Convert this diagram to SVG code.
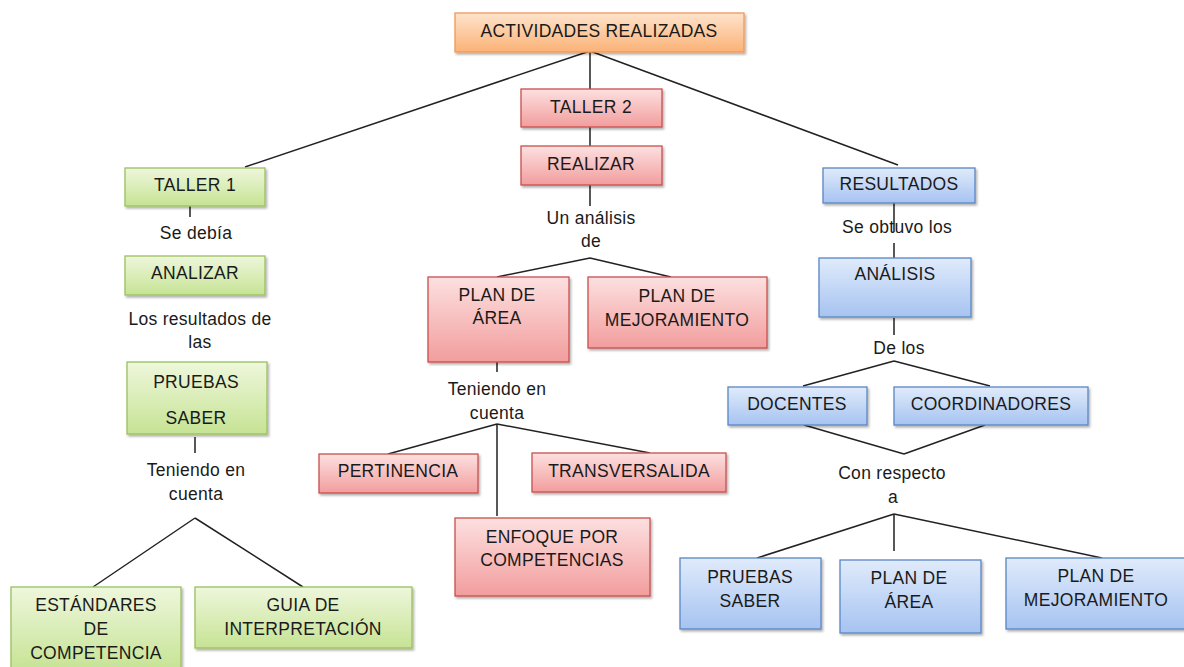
<svg xmlns="http://www.w3.org/2000/svg" width="1184" height="667" viewBox="0 0 1184 667">
<defs>
<linearGradient id="gO" x1="0" y1="0" x2="0" y2="1"><stop offset="0" stop-color="#fee3cc"/><stop offset="1" stop-color="#fbb276"/></linearGradient>
<linearGradient id="gG" x1="0" y1="0" x2="0" y2="1"><stop offset="0" stop-color="#eef7dc"/><stop offset="1" stop-color="#c6e394"/></linearGradient>
<linearGradient id="gR" x1="0" y1="0" x2="0" y2="1"><stop offset="0" stop-color="#fde0e0"/><stop offset="1" stop-color="#f29d9d"/></linearGradient>
<linearGradient id="gB" x1="0" y1="0" x2="0" y2="1"><stop offset="0" stop-color="#e0ebfb"/><stop offset="1" stop-color="#a6c3f1"/></linearGradient>
<filter id="sh" x="-10%" y="-10%" width="130%" height="140%"><feDropShadow dx="1.5" dy="2" stdDeviation="1.2" flood-color="#000" flood-opacity="0.3"/></filter>
</defs>
<style>
text{font-family:"Liberation Sans",Arial,sans-serif;font-size:17.5px;letter-spacing:0.3px;fill:#1a1a1a;text-anchor:middle}
.o{fill:url(#gO);stroke:#f0995a;stroke-width:1.3;filter:url(#sh)}
.g{fill:url(#gG);stroke:#9bc05c;stroke-width:1.3;filter:url(#sh)}
.r{fill:url(#gR);stroke:#c8504d;stroke-width:1.3;filter:url(#sh)}
.b{fill:url(#gB);stroke:#5a86c4;stroke-width:1.3;filter:url(#sh)}
.c{stroke:#222;stroke-width:1.5;fill:none}
</style>
<rect width="1184" height="667" fill="#fff"/>
<g id="connectors">
<path class="c" d="M590 51 L245 167 M590 51 L590 89 M590 51 L898 165 M590 127 L590 146 M590 185 L590 206 M590 258 L497 277 M590 258 L671 277"/>
<path class="c" d="M190 206 L190 217 M195 437 L195 453 M195 518 L93 587 M195 518 L303 587"/>
<path class="c" d="M497 362 L497 372 M497 424 L388 454 M497 424 L650 453 M497 424 L497 516"/>
<path class="c" d="M894 203 L894 232 M894 243 L894 258 M894 318 L894 335 M894 361 L803 386 M894 361 L990 386 M804 425 L904 454 M985 425 L904 454 M894 514 L757 558 M894 514 L894 551 M894 514 L1102 558"/>
</g>
<g id="n-actividades"><rect class="o" x="455" y="13" width="289" height="39"/><text x="599" y="37">ACTIVIDADES REALIZADAS</text></g>
<g id="n-taller2"><rect class="r" x="521" y="89" width="141" height="38"/><text x="591" y="113">TALLER 2</text></g>
<g id="n-realizar"><rect class="r" x="521" y="146" width="141" height="39"/><text x="591" y="170">REALIZAR</text></g>
<g id="l-unanalisis"><text x="591" y="224">Un análisis</text><text x="591" y="247">de</text></g>
<g id="n-planarea1"><rect class="r" x="428" y="277" width="141" height="85"/><text x="497" y="301">PLAN DE</text><text x="497" y="324">ÁREA</text></g>
<g id="n-planmej1"><rect class="r" x="588" y="277" width="179" height="71"/><text x="677" y="302">PLAN DE</text><text x="677" y="326">MEJORAMIENTO</text></g>
<g id="l-teniendo2"><text x="497" y="395">Teniendo en</text><text x="497" y="419">cuenta</text></g>
<g id="n-pertinencia"><rect class="r" x="319" y="454" width="159" height="39"/><text x="398" y="477">PERTINENCIA</text></g>
<g id="n-transversalida"><rect class="r" x="532" y="453" width="194" height="39"/><text x="629" y="477">TRANSVERSALIDA</text></g>
<g id="n-enfoque"><rect class="r" x="455" y="518" width="195" height="78"/><text x="552" y="543">ENFOQUE POR</text><text x="552" y="566">COMPETENCIAS</text></g>
<g id="n-taller1"><rect class="g" x="125" y="168" width="140" height="38"/><text x="195" y="191">TALLER 1</text></g>
<g id="l-sedebia"><text x="196" y="239">Se debía</text></g>
<g id="n-analizar"><rect class="g" x="125" y="256" width="140" height="39"/><text x="195" y="279">ANALIZAR</text></g>
<g id="l-resultados"><text x="200" y="325">Los resultados de</text><text x="200" y="348">las</text></g>
<g id="n-pruebas1"><rect class="g" x="127" y="362" width="140" height="72"/><text x="196" y="388">PRUEBAS</text><text x="196" y="424">SABER</text></g>
<g id="l-teniendo1"><text x="196" y="476">Teniendo en</text><text x="196" y="500">cuenta</text></g>
<g id="n-estandares"><rect class="g" x="11" y="587" width="170" height="84"/><text x="96" y="611">ESTÁNDARES</text><text x="96" y="635">DE</text><text x="96" y="659">COMPETENCIA</text></g>
<g id="n-guia"><rect class="g" x="195" y="587" width="217" height="61"/><text x="303" y="611">GUIA DE</text><text x="303" y="635">INTERPRETACIÓN</text></g>
<g id="n-resultados"><rect class="b" x="823" y="168" width="152" height="35"/><text x="899" y="190">RESULTADOS</text></g>
<g id="l-seobtuvo"><text x="897" y="233">Se obtuvo los</text></g>
<g id="n-analisis"><rect class="b" x="819" y="258" width="152" height="59"/><text x="895" y="280">ANÁLISIS</text></g>
<g id="l-delos"><text x="899" y="354">De los</text></g>
<g id="n-docentes"><rect class="b" x="728" y="387" width="139" height="38"/><text x="797" y="410">DOCENTES</text></g>
<g id="n-coordinadores"><rect class="b" x="894" y="387" width="194" height="38"/><text x="991" y="410">COORDINADORES</text></g>
<g id="l-conrespecto"><text x="892" y="479">Con respecto</text><text x="893" y="503">a</text></g>
<g id="n-pruebas2"><rect class="b" x="680" y="558" width="141" height="71"/><text x="750" y="583">PRUEBAS</text><text x="750" y="607">SABER</text></g>
<g id="n-planarea2"><rect class="b" x="840" y="560" width="141" height="73"/><text x="909" y="584">PLAN DE</text><text x="909" y="608">ÁREA</text></g>
<g id="n-planmej2"><rect class="b" x="1006" y="558" width="184" height="71"/><text x="1096" y="582">PLAN DE</text><text x="1096" y="606">MEJORAMIENTO</text></g>
</svg>
